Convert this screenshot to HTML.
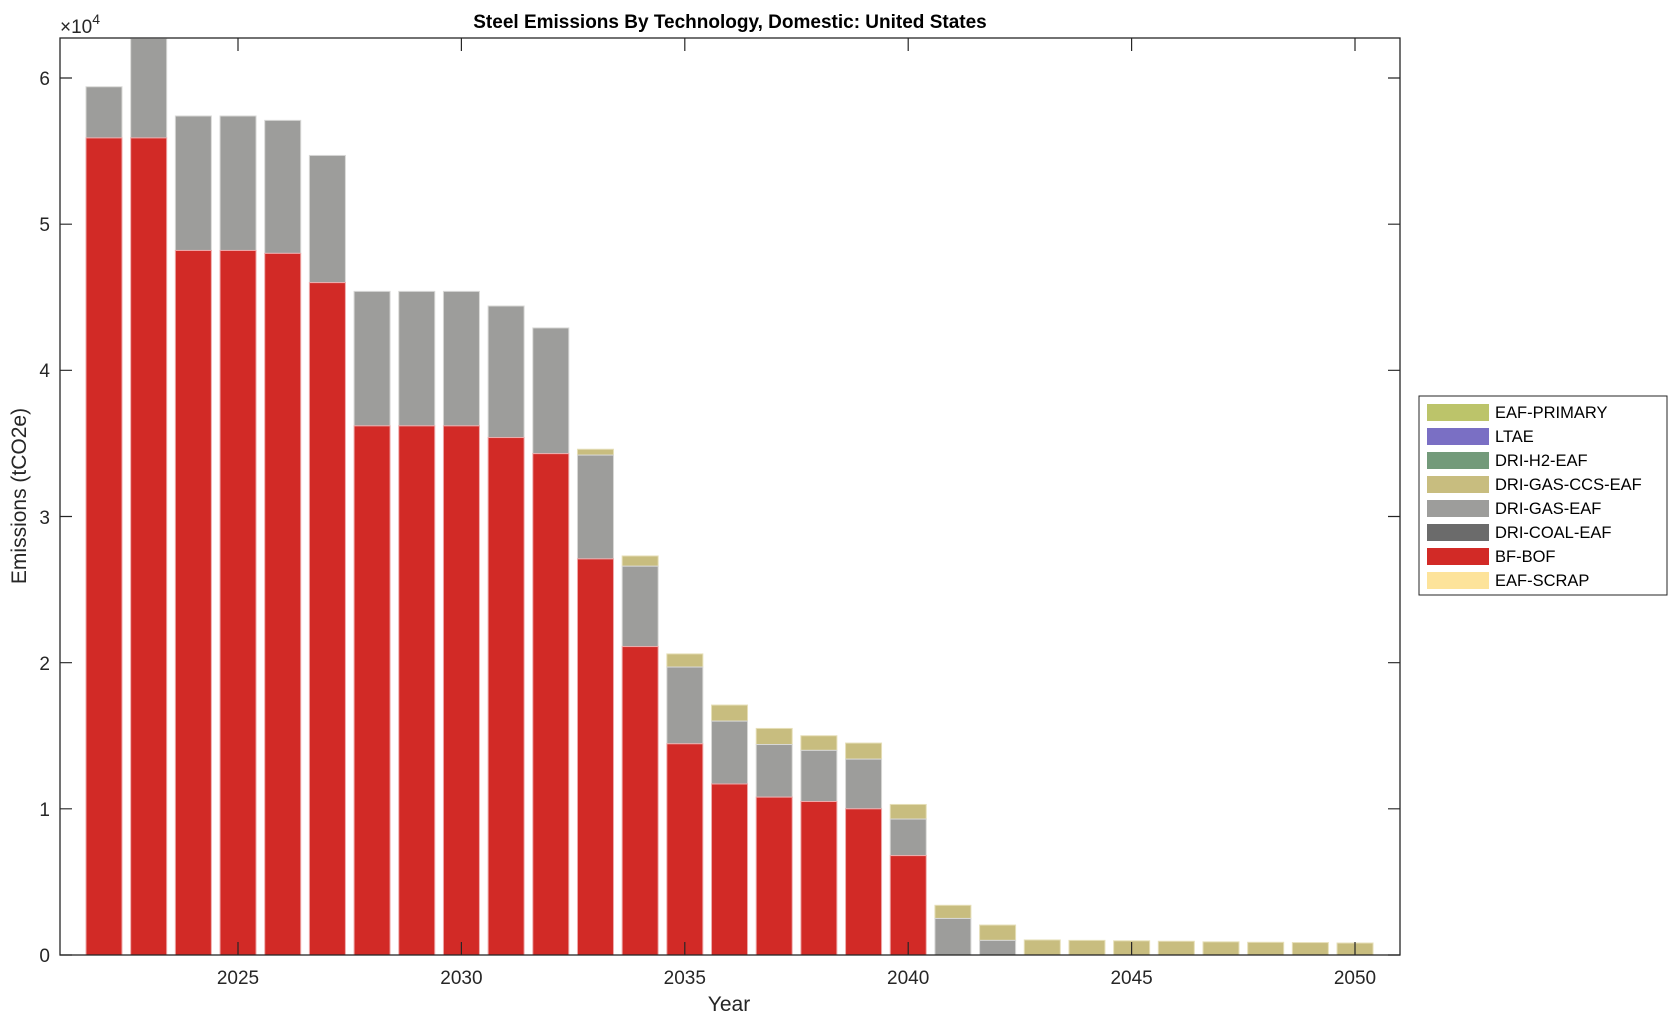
<!DOCTYPE html>
<html><head><meta charset="utf-8"><style>
html,body{margin:0;padding:0;background:#fff;}
svg{display:block;font-family:"Liberation Sans",Arial,sans-serif;}
</style></head><body>
<svg id="s" width="1679" height="1023" viewBox="0 0 1679 1023">
<rect width="1679" height="1023" fill="#fff"/>
<g id="bars"></g>
<rect x="60" y="38" width="1340" height="917" fill="none" stroke="#262626" stroke-width="1.3"/>
<g stroke="#262626" stroke-width="1.2">
<path d="M60 955h12M60 808.8h12M60 662.7h12M60 516.5h12M60 370.3h12M60 224.2h12M60 78h12"/>
<path d="M1400 955h-12M1400 808.8h-12M1400 662.7h-12M1400 516.5h-12M1400 370.3h-12M1400 224.2h-12M1400 78h-12"/>
<path d="M238 955v-13M461.4 955v-13M684.8 955v-13M908.2 955v-13M1131.6 955v-13M1355 955v-13"/>
<path d="M238 38v13M461.4 38v13M684.8 38v13M908.2 38v13M1131.6 38v13M1355 38v13"/>
</g>
<g font-size="19" fill="#262626" text-anchor="end">
<text x="50" y="962">0</text><text x="50" y="816">1</text><text x="50" y="670">2</text>
<text x="50" y="524">3</text><text x="50" y="377">4</text><text x="50" y="231">5</text><text x="50" y="85">6</text>
</g>
<g font-size="19" fill="#262626" text-anchor="middle">
<text x="238" y="984">2025</text><text x="461.4" y="984">2030</text><text x="684.8" y="984">2035</text>
<text x="908.2" y="984">2040</text><text x="1131.6" y="984">2045</text><text x="1355" y="984">2050</text>
</g>
<text x="60" y="33" font-size="19" fill="#262626">×10<tspan dy="-9" font-size="14">4</tspan></text>
<text x="730" y="28" font-size="19" font-weight="bold" text-anchor="middle" fill="#000">Steel Emissions By Technology, Domestic: United States</text>
<text x="729" y="1011" font-size="21" text-anchor="middle" fill="#262626">Year</text>
<text transform="translate(26,496) rotate(-90)" font-size="21" text-anchor="middle" fill="#262626">Emissions (tCO2e)</text>
<rect x="1419" y="396" width="248" height="199" fill="#fff" stroke="#262626" stroke-width="1"/>
<g id="leg" font-size="16.5" fill="#000"></g>
</svg>
<script>
var ns="http://www.w3.org/2000/svg";
function r(p,x,y,w,h,f,st){var e=document.createElementNS(ns,"rect");e.setAttribute("x",x);e.setAttribute("y",y);e.setAttribute("width",w);e.setAttribute("height",h);e.setAttribute("fill",f);if(st){e.setAttribute("stroke",st);e.setAttribute("stroke-width","1");}p.appendChild(e);}
var d=[[5.59,5.94,5.94],[5.59,6.27,6.27],[4.82,5.74,5.74],[4.82,5.74,5.74],[4.80,5.71,5.71],[4.60,5.47,5.47],
[3.62,4.54,4.54],[3.62,4.54,4.54],[3.62,4.54,4.54],[3.54,4.44,4.44],[3.43,4.29,4.29],[2.71,3.42,3.46],
[2.11,2.66,2.73],[1.445,1.97,2.06],[1.17,1.60,1.71],[1.08,1.44,1.55],[1.05,1.40,1.50],[1.00,1.34,1.45],
[0.68,0.93,1.03],[0,0.25,0.34],[0,0.10,0.205],[0,0,0.103],[0,0,0.10],[0,0,0.097],[0,0,0.094],[0,0,0.09],[0,0,0.087],[0,0,0.085],[0,0,0.082]];
var B=document.getElementById("bars"),k=146.17,w=36;
d.forEach(function(v,i){var cx=104+i*44.68,x=cx-w/2;
 var y=function(t){return 955-t*k;};
 if(v[2]>v[1])r(B,x,y(v[2]),w,(v[2]-v[1])*k,"#c8bd7f","#e6dfb8");
 if(v[1]>v[0])r(B,x,y(v[1]),w,(v[1]-v[0])*k,"#9d9d9b","#d8d8d6");
 if(v[0]>0)r(B,x,y(v[0]),w,v[0]*k,"#d22a26","#eaa");
});
var L=[["EAF-PRIMARY","#bcc46a"],["LTAE","#7a6fc4"],["DRI-H2-EAF","#739a7a"],["DRI-GAS-CCS-EAF","#c8bd7f"],["DRI-GAS-EAF","#9d9d9b"],["DRI-COAL-EAF","#6b6b6b"],["BF-BOF","#d22a26"],["EAF-SCRAP","#fde39a"]];
var G=document.getElementById("leg");
L.forEach(function(l,i){var y=404+i*24;r(G,1427,y,62,17,l[1]);
 var t=document.createElementNS(ns,"text");t.setAttribute("x",1495);t.setAttribute("y",y+14);t.textContent=l[0];G.appendChild(t);});
</script>
</body></html>
